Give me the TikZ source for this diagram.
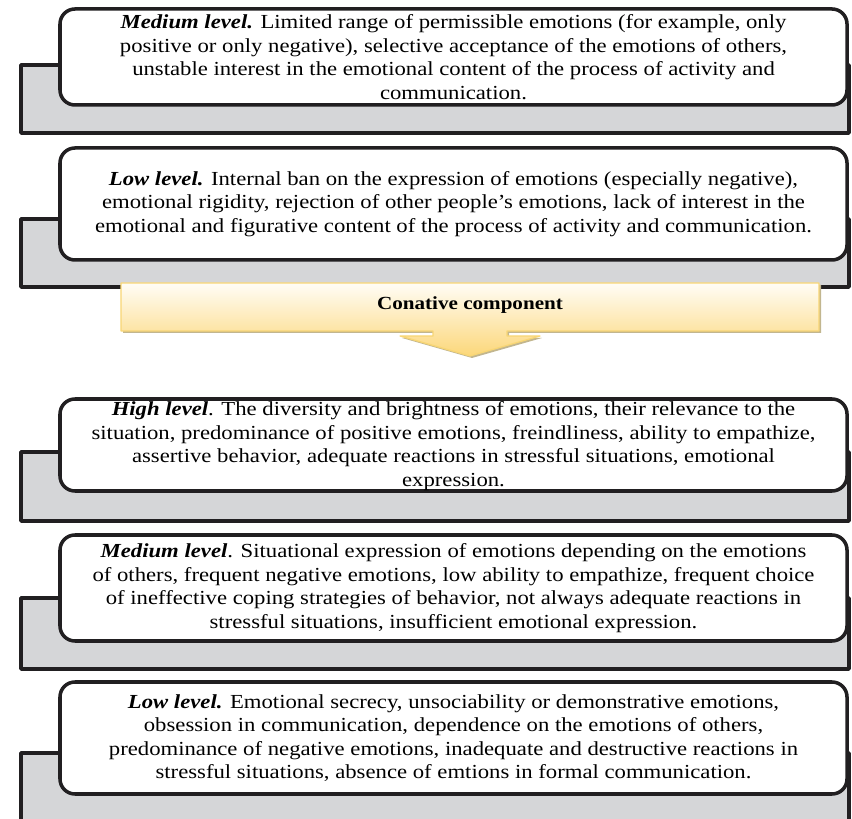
\documentclass[tikz,border=0pt]{standalone}
\usepackage{fontspec}
\setmainfont[FakeStretch=1.14]{Liberation Serif}
\definecolor{d5d6d8}{rgb}{0.835,0.839,0.847}
\definecolor{qqqqqq}{rgb}{0.13,0.12,0.13}
\definecolor{fffdf6}{rgb}{1.,0.992,0.965}
\definecolor{fcd779}{rgb}{0.988,0.843,0.475}
\definecolor{f8d675}{rgb}{0.973,0.839,0.459}
\definecolor{c2b68f}{rgb}{0.76,0.714,0.561}
\tikzset{
  levelbox/.style={line width=3pt,color=qqqqqq,fill=white,rounded corners=0.45cm},
  backbox/.style={line width=3pt,color=qqqqqq,fill=d5d6d8},
  leveltext/.style={align=center,inner sep=0pt,font=\fontsize{17}{20.1}\selectfont}
}
\newcommand{\lvl}[1]{\textbf{\textit{#1}}}

\begin{document}
\begin{tikzpicture}[line cap=round,line join=round,x=0.03cm,y=0.03cm]
	\useasboundingbox (0,0) rectangle (852,818);
	\clip(0,0) rectangle (852,818);
	% emotional component, medium and low
	\draw [backbox] (21,753) rectangle (849,685);
	\draw [levelbox] (60,809) rectangle (847,713);
	\draw (453.5,761) node[leveltext] (emoMed) {\lvl{Medium level.} Limited range of permissible emotions (for example, only\\
		positive or only negative), selective acceptance of the emotions of others,\\
		unstable interest in the emotional content of the process of activity and\\
		communication.};
	\draw [backbox] (21,599) rectangle (849,531);
	\draw [levelbox] (60,670) rectangle (847,558);
	\draw (453.5,614) node[leveltext] (emoLow) {\lvl{Low level.} Internal ban on the expression of emotions (especially negative),\\
		emotional rigidity, rejection of other people's emotions, lack of interest in the\\
		emotional and figurative content of the process of activity and communication.};
	% banner
	\draw [fill=c2b68f,draw=none] (123,533) -- (821,533) -- (821,485) -- (509,485) -- (509,480) -- (542,480) -- (472,460) -- (402,480) -- (435,480) -- (435,485) -- (123,485) -- cycle;
	\draw [line width=1.1pt,color=f8d675,top color=fffdf6,bottom color=fcd779] (121,535) -- (819,535) -- (819,487) -- (507,487) -- (507,482) -- (540,482) -- (470,462) -- (400,482) -- (433,482) -- (433,487) -- (121,487) -- cycle;
	\draw (470,513) node[leveltext,font=\fontsize{15.8}{20.1}\selectfont\bfseries] (conative) {Conative component};
	% conative component
	\draw [backbox] (21,366) rectangle (849,297);
	\draw [levelbox] (60,419) rectangle (847,327);
	\draw (453.5,372) node[leveltext] (conHigh) {\lvl{High level}. The diversity and brightness of emotions, their relevance to the\\
		situation, predominance of positive emotions, freindliness, ability to empathize,\\
		assertive behavior, adequate reactions in stressful situations, emotional\\
		expression.};
	\draw [backbox] (21,220) rectangle (849,149);
	\draw [levelbox] (60,283) rectangle (847,177);
	\draw (453.5,230) node[leveltext] (conMed) {\lvl{Medium level}. Situational expression of emotions depending on the emotions\\
		of others, frequent negative emotions, low ability to empathize, frequent choice\\
		of ineffective coping strategies of behavior, not always adequate reactions in\\
		stressful situations, insufficient emotional expression.};
	\draw [backbox] (21,65) rectangle (849,-10);
	\draw [levelbox] (60,136) rectangle (847,24);
	\draw (453.5,80) node[leveltext] (conLow) {\lvl{Low level.} Emotional secrecy, unsociability or demonstrative emotions,\\
		obsession in communication, dependence on the emotions of others,\\
		predominance of negative emotions, inadequate and destructive reactions in\\
		stressful situations, absence of emtions in formal communication.};
\end{tikzpicture}
\end{document}
